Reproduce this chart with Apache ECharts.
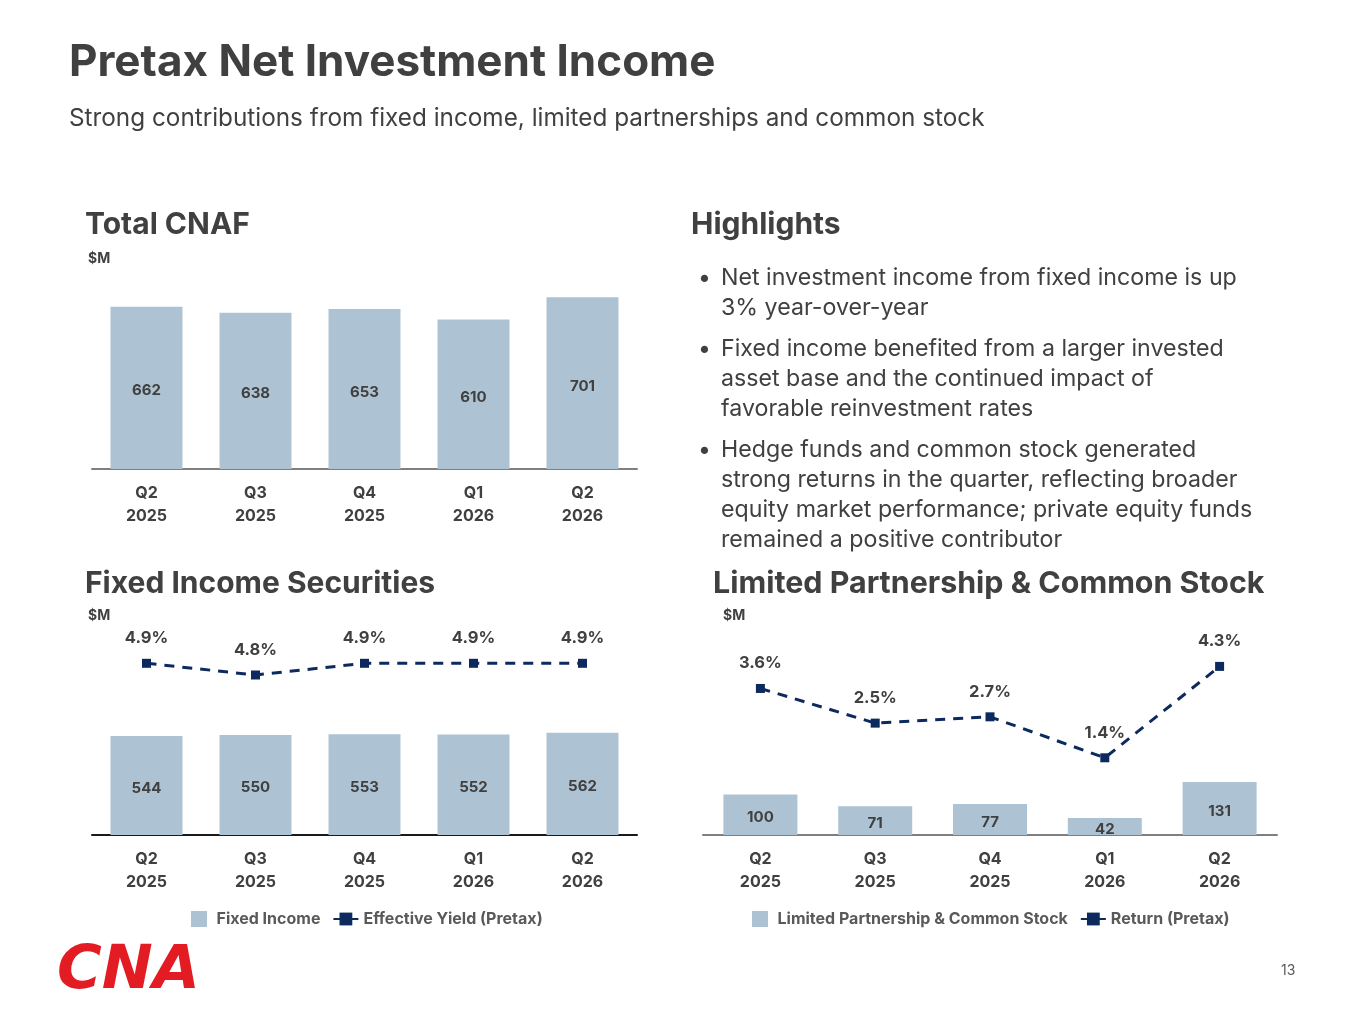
<!DOCTYPE html>
<html><head><meta charset="utf-8">
<script src="https://cdn.jsdelivr.net/npm/echarts@6/dist/echarts.min.js"></script>
<style>html,body{margin:0;padding:0;background:#fff;}#c{width:1365px;height:1024px;}</style>
</head><body><div id="c"></div>
<script>
const categories = ['Q2\n2025','Q3\n2025','Q4\n2025','Q1\n2026','Q2\n2026'];
const totalCNAF = [662, 638, 653, 610, 701];
const fixedIncome = [544, 550, 553, 552, 562];
const effectiveYield = [4.9, 4.8, 4.9, 4.9, 4.9];
const lpCommonStock = [100, 71, 77, 42, 131];
const lpReturn = [3.6, 2.5, 2.7, 1.4, 4.3];
const highlights = [
  ['Net investment income from fixed income is up', '3% year-over-year'],
  ['Fixed income benefited from a larger invested', 'asset base and the continued impact of', 'favorable reinvestment rates'],
  ['Hedge funds and common stock generated', 'strong returns in the quarter, reflecting broader', 'equity market performance; private equity funds', 'remained a positive contributor']
];

const FONT = 'Inter, "Noto Sans", sans-serif';
const TXT = '#404040';
const BAR = '#adc3d3';
const NAVY = '#0d2a5e';

const chart = echarts.init(document.getElementById('c'));

const graphics = [];
function text(x, y, t, size, weight, color, extra) {
  graphics.push(Object.assign({type:'text', x:x, y:y, style:{text:t, fontSize:size, fontWeight:weight, fill:color||TXT, fontFamily:FONT, textVerticalAlign:'middle'}}, extra||{}));
}
text(69, 63, 'Pretax Net Investment Income', 44, 'bold');
text(69, 119, 'Strong contributions from fixed income, limited partnerships and common stock', 24.3, 'normal');
text(85, 225, 'Total CNAF', 30, 'bold');
text(88, 259, '$M', 14, 'bold');
text(691, 225, 'Highlights', 30, 'bold');
text(85, 584, 'Fixed Income Securities', 30, 'bold');
text(88, 616, '$M', 14, 'bold');
text(713, 584, 'Limited Partnership & Common Stock', 30.4, 'bold');
text(723, 616, '$M', 14, 'bold');
text(1281, 971, '13', 14, 'normal', '#595959');
graphics.push({type:'text', x:57, y:972, style:{text:'CNA', fontSize:61, fontWeight:900, fontStyle:'italic', fill:'#e31b23', fontFamily:'"DejaVu Sans", sans-serif', textVerticalAlign:'middle'}});

let y = 278;
highlights.forEach(function(lines){
  text(698, y, '•', 23, 'normal');
  lines.forEach(function(l){ text(721, y, l, 23.2, 'normal'); y += 30; });
  y += 11;
});

const xLabel = {color:TXT, fontSize:16, fontWeight:'bold', lineHeight:23, margin:13, fontFamily:FONT};
function xAxis(gi, lineColor){
  return {type:'category', gridIndex:gi, data:categories, axisTick:{show:false},
    axisLine:{lineStyle:{color:lineColor, width:2}}, axisLabel:xLabel};
}
const barLabel = {show:true, position:'inside', offset:[0,3], color:TXT, fontSize:15, fontWeight:'bold', fontFamily:FONT};
const lineLabel = {show:true, position:'top', distance:12, color:TXT, fontSize:16.5, fontWeight:'bold', fontFamily:FONT,
  formatter:function(p){return p.value.toFixed(1)+'%';}};
const legText = {color:'#595959', fontSize:16, fontWeight:'bold', fontFamily:FONT};

const option = {
  animation:false,
  textStyle:{fontFamily:FONT},
  graphic:graphics,
  grid:[
    {left:92, width:545, top:273, height:196},
    {left:92, width:545, top:653, height:182},
    {left:703, width:574, top:633, height:202}
  ],
  xAxis:[xAxis(0,'#7f7f7f'), xAxis(1,'#1a1a1a'), xAxis(2,'#7f7f7f')],
  yAxis:[
    {type:'value', gridIndex:0, min:0, max:800, show:false},
    {type:'value', gridIndex:1, min:0, max:1000, show:false},
    {type:'value', gridIndex:1, min:3.4325, max:4.988, show:false},
    {type:'value', gridIndex:2, min:0, max:500, show:false},
    {type:'value', gridIndex:2, min:-1.05, max:5.36, show:false}
  ],
  legend:[
    {left:186, top:906, itemWidth:25, itemHeight:16, itemGap:12, symbolKeepAspect:true, textStyle:legText,
     data:[{name:'Fixed Income', icon:'path://M0,0L1,0L1,1L0,1Z'}, {name:'Effective Yield (Pretax)'}]},
    {left:747, top:906, itemWidth:25, itemHeight:16, itemGap:12, symbolKeepAspect:true, textStyle:legText,
     data:[{name:'Limited Partnership & Common Stock', icon:'path://M0,0L1,0L1,1L0,1Z'}, {name:'Return (Pretax)'}]}
  ],
  series:[
    {name:'Total CNAF', type:'bar', xAxisIndex:0, yAxisIndex:0, data:totalCNAF, barWidth:72, itemStyle:{color:BAR}, label:barLabel},
    {name:'Fixed Income', type:'bar', xAxisIndex:1, yAxisIndex:1, data:fixedIncome, barWidth:72, itemStyle:{color:BAR}, label:barLabel},
    {name:'Effective Yield (Pretax)', type:'line', xAxisIndex:1, yAxisIndex:2, data:effectiveYield,
     symbol:'rect', symbolSize:9, itemStyle:{color:NAVY}, lineStyle:{color:NAVY, width:3, type:[10,8]}, label:lineLabel},
    {name:'Limited Partnership & Common Stock', type:'bar', xAxisIndex:2, yAxisIndex:3, data:lpCommonStock, barWidth:74, itemStyle:{color:BAR}, label:barLabel},
    {name:'Return (Pretax)', type:'line', xAxisIndex:2, yAxisIndex:4, data:lpReturn,
     symbol:'rect', symbolSize:9, itemStyle:{color:NAVY}, lineStyle:{color:NAVY, width:3, type:[10,8]}, label:lineLabel}
  ]
};
chart.setOption(option);
</script></body></html>
